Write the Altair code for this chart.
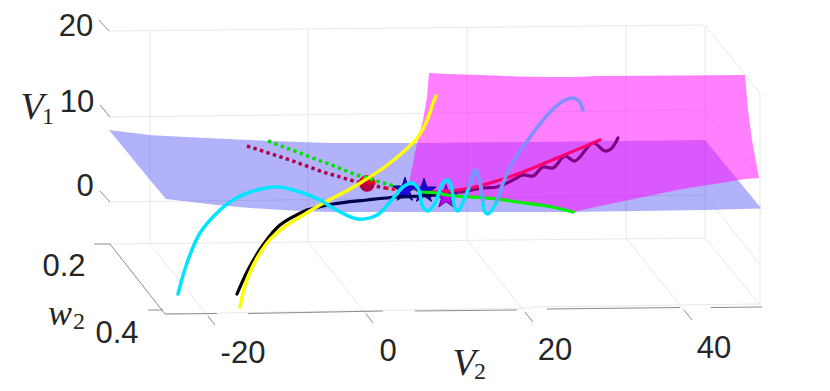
import altair as alt
import pandas as pd

# Projected screen-space readings of the 3-D figure
BLUE_X = [109,150,166,217,250,300,330,367,420,573,705,761]
BLUE_TOP = [130,135,136,138.5,140,142,143,143,143,141.5,140,208]
BLUE_BOT = [130,180,199,205,208,211,212,212,212,212,210,208.5]
MAG_X = [408,410,417,423,427,429,447,497,517,547,573,600,677,745,748,752,759]
MAG_TOP = [190,178,143,120,97,73,74,75.5,76.5,77,77,76,75.5,75,110,140,178]
MAG_BOT = [190,190.5,191.5,192,192.5,193,195,199,202,206,212,206,190,179,178.8,178.5,178]

GRID = [
    ([109,704],[31,25]), ([110,705],[117,110]), ([110,705],[202,195]), ([110,705],[244,238]),
    ([150,150],[32,244]), ([308,308],[30,242]), ([467,467],[28,240]), ([626,626],[26,238]),
    ([705,705],[25,238]), ([760,760],[93,305]),
    ([705,760],[25,93]), ([705,760],[110,178]), ([705,760],[195,265]), ([705,760],[238,305]),
    ([150,208],[244,316]), ([308,366],[242,314]), ([467,525],[240,312]), ([626,684],[238,310]),
    ([532,758],[307,304]),([165,532],[314,308]),
]
AXIS = [
    ([99,109],[20,31]), ([100,110],[105,117]), ([100,110],[191,202]),
    ([94,110],[244,244]), ([110,165],[244,314]),
    ([148,163],[310,310]), ([165,217],[314,313.5]), ([248,383],[313.5,311]), ([415,517],[311,310]),
    ([547,680],[309,307.5]), ([711,762],[307.5,307]),
    ([208,215],[316,325]), ([366,373],[314,323]), ([525,533],[312,322]), ([684,692],[310,320]),
]

YEL_X = [240,248,267,283,300,320,357,390,418,428,433,436]
YEL_Y = [307,277,243,228,217,205,185,163,137,118,103,96]
BLK_X = [237,248,263,280,307]
BLK_Y = [294,270,245,225,210]
NAVY_X = [307,333,367,397,420,437]
NAVY_Y = [210,204,200,197,196,195]
CYAN_X = [178,187,200,220,233,250,277,300,320,333,358,377,390,403,412,418,423,428,435,443,448,452,455,458,465,470,475,480,485,488,495,503]
CYAN_Y = [294,263,233,210,200,192,187,192,200,208,219,215,202,187,183,188,207,211,203,183,180,190,208,211,197,185,170,183,212,214,205,183]
PERI1_X = [469,475,480,483]
PERI1_Y = [187,170,183,200]
PERI2_X = [497,503,513,523,543,560,572,578,583]
PERI2_Y = [200,183,162,147,120,103,98,100,110]
PINK_X = [430,450,470,490,523,557,600]
PINK_Y = [192,191,188,183,172,158,140]
PUR_X = [450,460,483,497,513,523,533,543,553,565,575,593,605,611,618]
PUR_Y = [192,192,188,187,180,175,176,167,168,156,161,143,151,149,138]
GRN_X = [420,437,447,497,517,547,573]
GRN_Y = [192,193,195,199,202,206,212]
GDOT_X = [268,300,357,397,433]
GDOT_Y = [141,153,175,187,192]
CDOT_X = [247,290,323,357,385]
CDOT_Y = [146,160,172,182,188]
RDOT_X = [385,400,412]
RDOT_Y = [188,190,191]

CIRCLE_X, CIRCLE_Y = [367], [184]
STAR_BLUE_X, STAR_BLUE_Y = [405,424], [190,191]
STAR_MAG_X, STAR_MAG_Y = [446], [197]

TICKS = ["20","10","0","0.2","0.4","-20","0","20","40"]
TICK_X = [76,77,85,64,117,243,388,555,714]
TICK_Y = [27,102.5,186.5,267,334,354,352,351,349]

X = alt.X("x:Q", scale=alt.Scale(domain=[8,822]), axis=None)
Y = alt.Y("y:Q", scale=alt.Scale(domain=[383,8]), axis=None)

def line(xs, ys, color, width, dash=None, cap="round", curve="linear"):
    kw = dict(color=color, strokeWidth=width, strokeCap=cap, clip=True, interpolate=curve)
    if dash:
        kw["strokeDash"] = dash
    df = pd.DataFrame({"x": xs, "y": ys, "o": range(len(xs))})
    return alt.Chart(df).mark_line(**kw).encode(X, Y, order="o:Q")

def curve(xs, ys, color, width):
    return line(xs, ys, color, width, curve="catmull-rom")

def area(xs, top, bot, color, op):
    df = pd.DataFrame({"x": xs, "y": top, "y2": bot})
    return alt.Chart(df).mark_area(color=color, opacity=op).encode(X, Y, y2="y2:Q")

def label(t, x, y, size, font, color="#262626", style="normal"):
    df = pd.DataFrame({"x": [x], "y": [y], "t": [t]})
    return alt.Chart(df).mark_text(fontSize=size, font=font, color=color, fontStyle=style,
                                   align="center", baseline="middle").encode(X, Y, text="t:N")

STAR = "M0,-1L0.2245,-0.309L0.951,-0.309L0.363,0.118L0.588,0.809L0,0.382L-0.588,0.809L-0.363,0.118L-0.951,-0.309L-0.2245,-0.309Z"
HALF = "M-1,0.1A1,1 0 0 1 1,-0.1L1,0.05L-1,0.2Z"
def stars(xs, ys, color, stroke, size):
    df = pd.DataFrame({"x": xs, "y": ys})
    return alt.Chart(df).mark_point(shape=STAR, size=size, filled=True, opacity=1, color=color,
                                    stroke=stroke, strokeWidth=1).encode(X, Y)

layers = []
for xs, ys in GRID:
    layers.append(line(xs, ys, "#e8e8ee", 1, cap="butt"))
for xs, ys in AXIS:
    layers.append(line(xs, ys, "#8c8c8c", 1, cap="butt"))
layers.append(area(BLUE_X, BLUE_TOP, BLUE_BOT, "#0000f0", 0.3))
layers.append(area(MAG_X, MAG_TOP, MAG_BOT, "#ff00ff", 0.5))

circ = pd.DataFrame({"x": CIRCLE_X, "y": CIRCLE_Y})
layers.append(alt.Chart(circ).mark_point(shape="circle", size=235, filled=True, opacity=1, color="#b00045").encode(X, Y))
layers.append(alt.Chart(circ).mark_point(shape=HALF, size=300, filled=True, opacity=1, color="#f00010").encode(X, Y))

layers += [
    line(GDOT_X, GDOT_Y, "#00e000", 3.5, [3.4,3.4], "butt"),
    line(CDOT_X, CDOT_Y, "#b00045", 3.5, [3.4,3.4], "butt"),
    line(RDOT_X, RDOT_Y, "#f00020", 3.5, [3.4,3.4], "butt"),
    stars(STAR_BLUE_X, STAR_BLUE_Y, "#2000e0", "#000080", 650),
    stars(STAR_MAG_X, STAR_MAG_Y, "#c000f0", "#600090", 600),
    curve(BLK_X, BLK_Y, "#000000", 3.2),
    curve(NAVY_X, NAVY_Y, "#000050", 3.2),
    curve(YEL_X, YEL_Y, "#ffff00", 3.5),
    curve(PUR_X, PUR_Y, "#800080", 3.2),
    curve(PINK_X, PINK_Y, "#ff0070", 3.2),
    curve(GRN_X, GRN_Y, "#00f000", 3.2),
    curve(CYAN_X, CYAN_Y, "#00e5ff", 3.5),
    curve(PERI1_X, PERI1_Y, "#8090ff", 3.5),
    curve(PERI2_X, PERI2_Y, "#8090ff", 3.5),
]
for t, x, y in zip(TICKS, TICK_X, TICK_Y):
    layers.append(label(t, x, y, 31, "Liberation Sans"))
layers += [
    label("V", 32, 108, 38, "Liberation Serif", style="italic"),
    label("1", 48, 117, 24, "Liberation Serif"),
    label("w", 60, 314, 36, "Liberation Serif", style="italic"),
    label("2", 79, 322, 24, "Liberation Serif"),
    label("V", 464, 364, 38, "Liberation Serif", style="italic"),
    label("2", 480, 372, 24, "Liberation Serif"),
]

chart = alt.layer(*layers).properties(
    width=814, height=375, padding=0,
    autosize=alt.AutoSizeParams(type="none"), background="white",
).configure_view(stroke=None)
chart.save("out.html", embed_options={"renderer": "svg", "actions": False})
